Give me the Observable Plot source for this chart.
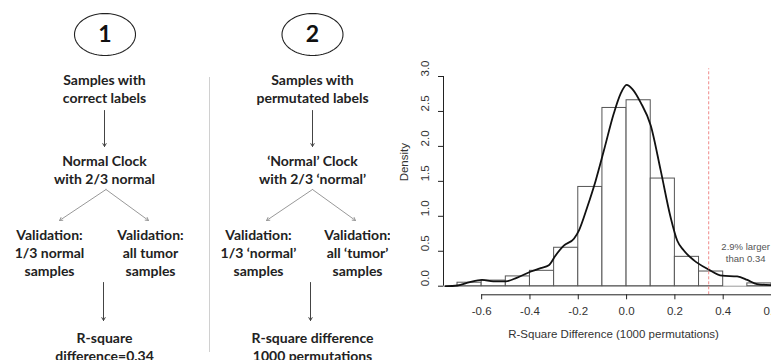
<!DOCTYPE html>
<html>
<head>
<meta charset="utf-8">
<script src="https://cdn.jsdelivr.net/npm/d3@7"></script>
<script src="https://cdn.jsdelivr.net/npm/@observablehq/plot@0.6"></script>
<style>
  html, body { margin: 0; padding: 0; background: #fff; }
  #wrap { position: relative; width: 771px; height: 360px; overflow: hidden; background: #fff; }
  #wrap svg { position: absolute; top: 0; }
</style>
</head>
<body>
<div id="wrap"></div>
<script>
// ---------------- DATA ----------------
// Diagram texts
const stepLabels = ["1", "2"];
const blockTexts = [
  "Samples with\ncorrect labels",
  "Normal Clock\nwith 2/3 normal",
  "Validation:\n1/3 normal\nsamples",
  "Validation:\nall tumor\nsamples",
  "R-square\ndifference=0.34",
  "Samples with\npermutated labels",
  "\u2018Normal\u2019 Clock\nwith 2/3 \u2018normal\u2019",
  "Validation:\n1/3 \u2018normal\u2019\nsamples",
  "Validation:\nall \u2018tumor\u2019\nsamples",
  "R-square difference\n1000 permutations"
];

// Histogram (density, bin width 0.1)
const binStart   = [-0.7, -0.6, -0.5, -0.4, -0.3, -0.2, -0.1, 0.0, 0.1, 0.2, 0.3, 0.4, 0.5];
const binDensity = [0.05, 0.08, 0.14, 0.22, 0.55, 1.42, 2.55, 2.66, 1.54, 0.42, 0.21, 0.0, 0.04];
const binWidth = 0.1;

// Kernel density curve
const curveX = [-0.75, -0.70, -0.649, -0.598, -0.552, -0.50, -0.455, -0.396, -0.356, -0.322, -0.294, -0.26, -0.218, -0.197, -0.163, -0.128, -0.094, -0.053, -0.025, 0.0, 0.024, 0.058, 0.10, 0.141, 0.182, 0.21, 0.237, 0.279, 0.334, 0.396, 0.458, 0.50, 0.54, 0.596];
const curveY = [0.0, 0.01, 0.06, 0.09, 0.07, 0.07, 0.12, 0.21, 0.26, 0.30, 0.44, 0.58, 0.68, 0.80, 1.13, 1.51, 1.94, 2.47, 2.75, 2.88, 2.82, 2.63, 2.30, 1.66, 0.99, 0.65, 0.51, 0.37, 0.25, 0.15, 0.14, 0.09, 0.03, 0.015];

const xTicks = [-0.6, -0.4, -0.2, 0.0, 0.2, 0.4, 0.6];
const yTicks = [0.0, 0.5, 1.0, 1.5, 2.0, 2.5, 3.0];
const observedDiff = 0.34;
const noteLines = ["2.9% larger", "than 0.34"];
const xTitle = "R-Square Difference (1000 permutations)";
const yTitle = "Density";

// ---------------- LAYOUT (diagram, pixel units) ----------------
const ellipsePos = [[104.5, 34], [312, 34]];
const ellipseR = [30.5, 21];
const blockPos = [
  [104, 88], [104, 169], [49, 252], [150, 252], [104, 345.5],
  [312, 88], [312, 169], [258, 252], [357, 252], [312, 345.5]
];
const mainArrows = [
  [104, 110, 104, 146], [103, 282, 103, 320],
  [312, 110, 312, 146], [310, 282, 310, 320]
];
const branchArrows = [
  [105.5, 189, 59, 220], [105.5, 189, 148, 220],
  [312, 189, 266, 220], [312, 189, 355, 220]
];
const divider = [209, 77, 352];

// ---------------- DIAGRAM ----------------
const ellipsePts = ellipsePos.flatMap(([cx, cy], k) =>
  d3.range(0, 73).map(i => {
    const t = (i / 72) * 2 * Math.PI;
    return {id: k, x: cx + ellipseR[0] * Math.cos(t), y: cy + ellipseR[1] * Math.sin(t)};
  })
);
const blocks = blockTexts.map((t, i) => ({text: t, x: blockPos[i][0], y: blockPos[i][1]}));
const steps = stepLabels.map((t, i) => ({text: t, x: ellipsePos[i][0], y: ellipsePos[i][1]}));
const toArrow = a => ({x1: a[0], y1: a[1], x2: a[2], y2: a[3]});

const diagram = Plot.plot({
  width: 390, height: 360, margin: 0,
  x: {domain: [0, 390], range: [0, 390], axis: null},
  y: {domain: [0, 360], range: [0, 360], axis: null},
  style: {background: "transparent", fontFamily: "Lato, 'Open Sans', sans-serif", color: "#1a1a1a"},
  marks: [
    Plot.ruleX([divider[0]], {y1: divider[1], y2: divider[2], stroke: "#d0d0d0", strokeWidth: 1}),
    Plot.line(ellipsePts, {x: "x", y: "y", z: "id", stroke: "#222", strokeWidth: 1.1}),
    Plot.text(steps, {x: "x", y: "y", text: "text", fontSize: 23, fontWeight: "bold", fill: "#111"}),
    Plot.text(blocks, {x: "x", y: "y", text: "text", fontSize: 14, fontWeight: "bold", fill: "#222", lineHeight: 1.27}),
    Plot.arrow(mainArrows.map(toArrow), {x1: "x1", y1: "y1", x2: "x2", y2: "y2", stroke: "#444", strokeWidth: 1, headLength: 5}),
    Plot.arrow(branchArrows.map(toArrow), {x1: "x1", y1: "y1", x2: "x2", y2: "y2", stroke: "#999", strokeWidth: 1, headLength: 5})
  ]
});

// ---------------- HISTOGRAM ----------------
const bins = binStart.map((s, i) => ({x1: s, x2: s + binWidth, d: binDensity[i]}));
const curve = curveX.map((x, i) => ({x, y: curveY[i]}));
const xDomain = [-0.758, 0.6];
const yDomain = [-0.123, 3.0];
const rPanelX = [-0.758, 0.65]; // original R plot region (cropped on the right)
const rPanelTop = 3.11;

const hist = Plot.plot({
  width: 381, height: 360,
  marginLeft: 53, marginRight: 0, marginTop: 76, marginBottom: 65.7,
  x: {domain: xDomain},
  y: {domain: yDomain},
  style: {background: "transparent", fontFamily: "'Liberation Sans', Arial, sans-serif", color: "#333"},
  marks: [
    Plot.ruleY([0], {stroke: "#9a9a9a", strokeWidth: 1}),
    Plot.rect(bins, {x1: "x1", x2: "x2", y1: 0, y2: "d", fill: "white", stroke: "#555", strokeWidth: 1}),
    Plot.line(curve, {x: "x", y: "y", curve: "monotone-x", stroke: "#111", strokeWidth: 1.8}),
    Plot.ruleX([observedDiff], {y1: yDomain[0], y2: rPanelTop, stroke: "#ef8a8a", strokeWidth: 1, strokeDasharray: "3,2"}),
    Plot.text([noteLines.join("\n")], {x: 0.493, y: 0.49, text: d => d, fontSize: 9.5, fill: "#555", lineHeight: 1.3}),
    // y axis
    Plot.ruleX([xDomain[0]], {y1: yTicks[0], y2: yTicks[yTicks.length - 1], stroke: "#222"}),
    Plot.axisY({ticks: yTicks, tickSize: 5, tickFormat: () => "", label: null, stroke: "#222"}),
    Plot.text(yTicks, {y: d => d, text: d => d.toFixed(1), frameAnchor: "left", dx: -18, rotate: -90, fontSize: 11.5, fill: "#333"}),
    Plot.text([yTitle], {y: (yTicks[0] + yTicks[yTicks.length - 1]) / 2, text: d => d, frameAnchor: "left", dx: -39, rotate: -90, fontSize: 11.5, fill: "#333"}),
    // x axis
    Plot.ruleY([yDomain[0]], {x1: xTicks[0], x2: xTicks[xTicks.length - 1], stroke: "#222"}),
    Plot.axisX({ticks: xTicks, tickSize: 5, tickPadding: 7, tickFormat: d => d.toFixed(1), label: null, fontSize: 11.5, stroke: "#222", fill: "#333"}),
    Plot.text([xTitle], {x: (rPanelX[0] + rPanelX[1]) / 2, text: d => d, frameAnchor: "bottom", dy: 43.5, fontSize: 11.5, fill: "#333"})
  ]
});
hist.style.left = "390px";

const wrap = document.getElementById("wrap");
diagram.style.left = "0px";
wrap.appendChild(diagram);
wrap.appendChild(hist);
</script>
</body>
</html>
